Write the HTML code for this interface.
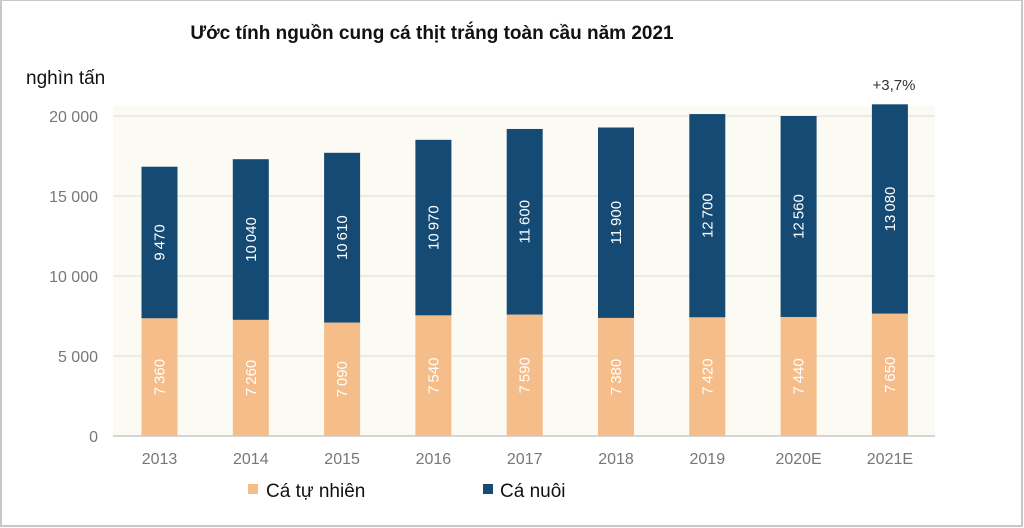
<!DOCTYPE html>
<html><head><meta charset="utf-8">
<style>
body{margin:0;background:#fff;}
#wrap{position:relative;width:1024px;height:528px;overflow:hidden;background:#fff;}
svg{position:absolute;left:0;top:0;font-family:"Liberation Sans",sans-serif;}
</style></head>
<body>
<div id="wrap">
<svg id="chart" width="1024" height="528">
<rect x="1" y="0" width="1021" height="526" fill="none" stroke="#c8c8c8" stroke-width="2"/>
<rect x="113" y="106" width="822" height="330" fill="#fbfaf3"/>
<text x="432" y="39" text-anchor="middle" font-size="19" font-weight="bold" fill="#111">Ước tính nguồn cung cá thịt trắng toàn cầu năm 2021</text>
<text x="26" y="84" font-size="19" fill="#111">nghìn tấn</text>
<g id="grid"></g><g id="bars"></g>
<text x="894" y="90" text-anchor="middle" font-size="15" fill="#333">+3,7%</text>
<rect x="248" y="484" width="10" height="10" fill="#f5bd8a"/>
<text x="266" y="497" font-size="19" fill="#111">Cá tự nhiên</text>
<rect x="483" y="484" width="10" height="10" fill="#144a74"/>
<text x="500" y="497" font-size="19" fill="#111">Cá nuôi</text>
</svg>
</div>
<script>
const categories=["2013","2014","2015","2016","2017","2018","2019","2020E","2021E"];
const wild=[7360,7260,7090,7540,7590,7380,7420,7440,7650];
const farmed=[9470,10040,10610,10970,11600,11900,12700,12560,13080];
const yTicks=[0,5000,10000,15000,20000];
const NS="http://www.w3.org/2000/svg";
const y=v=>436-v*0.016;
const x=i=>159.5+i*91.3;
const fmt=v=>{const s=String(v);return s.length>3?s.slice(0,-3)+"\u2009"+s.slice(-3):s;};
function mk(tag,attrs,parent,txt){const e=document.createElementNS(NS,tag);for(const k in attrs)e.setAttribute(k,attrs[k]);if(txt!==undefined)e.textContent=txt;parent.appendChild(e);return e;}
const grid=document.getElementById('grid'),bars=document.getElementById('bars');
yTicks.forEach(t=>{
 const l=mk('line',{x1:113,x2:935,y1:y(t),y2:y(t),stroke:t===0?'#c8c8c8':'#dcdcd6','stroke-width':t===0?1.5:1},grid);
 
 
 const s=String(t);const lab=s.length>3?s.slice(0,-3)+" "+s.slice(-3):s;
 const tx=mk('text',{x:98,y:y(t)+6,'text-anchor':'end','font-size':16,fill:'#777'},grid,lab);
 
 
});
categories.forEach((c,i)=>{
 const cx=x(i),w=36;
 const r1=mk('rect',{x:cx-w/2,y:y(wild[i]),width:w,height:y(0)-y(wild[i]),fill:'#f5bd8a'},bars);
 
 
 const top=wild[i]+farmed[i];
 const r2=mk('rect',{x:cx-w/2,y:y(top),width:w,height:y(wild[i])-y(top),fill:'#144a74'},bars);
 
 
 const my1=(y(0)+y(wild[i]))/2, my2=(y(wild[i])+y(top))/2;
 const t1=mk('text',{x:cx+5,y:my1,'text-anchor':'middle','font-size':15,fill:'#fff',transform:`rotate(-90 ${cx+5} ${my1})`},bars,fmt(wild[i]));
 
 
 const t2=mk('text',{x:cx+5,y:my2,'text-anchor':'middle','font-size':15,fill:'#fff',transform:`rotate(-90 ${cx+5} ${my2})`},bars,fmt(farmed[i]));
 
 
 const xl=mk('text',{x:cx,y:464,'text-anchor':'middle','font-size':16,fill:'#777'},bars,c);
 
 
});
</script>
</body></html>
